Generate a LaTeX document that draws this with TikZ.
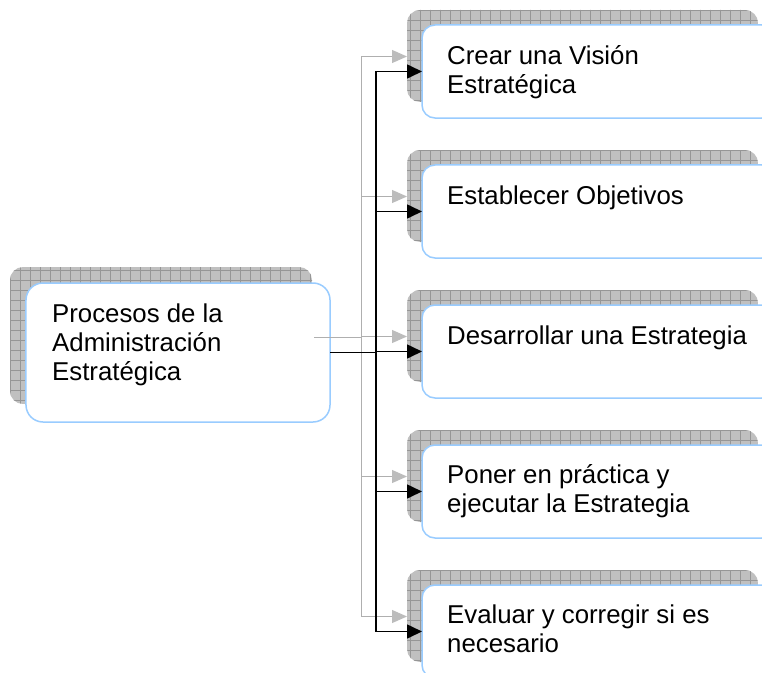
\documentclass[tikz,border=0pt]{standalone}
\usepackage{fontspec}
\setmainfont{Liberation Sans}
\usetikzlibrary{arrows.meta}
\definecolor{boxblue}{RGB}{153,204,255}
\definecolor{shadefill}{RGB}{192,192,192}
\definecolor{shadegrid}{RGB}{150,150,150}
\definecolor{ghostline}{RGB}{175,175,175}
\definecolor{ghosttip}{RGB}{188,188,188}
\tikzset{
 mainbox/.style={draw=boxblue, line width=1.5bp, fill=white, rounded corners=13bp, inner sep=0pt, outer sep=0pt},
 boxtext/.style={anchor=base west, inner sep=0pt, font=\fontsize{25.8bp}{29bp}\selectfont},
 link/.style={line width=1.6bp, black, -{Triangle[length=15bp,width=14bp]}},
 ghost/.style={line width=1bp, ghostline, -{Triangle[length=15bp,width=13bp,fill=ghosttip,color=ghosttip]}},
 gridline/.style={shadegrid, line width=0.5bp},
}
\newcommand\shadowpanel[2]{%
 \begin{scope}
 \clip[rounded corners=13bp] (#1) rectangle (#2);
 \fill[shadefill] (#1) rectangle (#2);
 \draw[gridline, step=10bp] (0,0) grid (780,690);
 \end{scope}}
\begin{document}
\begin{tikzpicture}[x=1bp,y=-1bp]
\useasboundingbox (0,0) rectangle (762,673);
\clip (0,0) rectangle (762,673);
% shadow panels
\shadowpanel{10,267}{312,404}
\foreach \i in {0,...,4}{
 \shadowpanel{407,10+140*\i}{758,102+140*\i}
}
% main boxes
\node[mainbox, rounded corners=17bp, minimum width=304bp, minimum height=139bp] (L) at (178,352.5) {};
\node[mainbox, minimum width=353bp, minimum height=93bp] (b1) at (598.5,71.5) {};
\node[mainbox, minimum width=353bp, minimum height=93bp] (b2) at (598.5,211.5) {};
\node[mainbox, minimum width=353bp, minimum height=93bp] (b3) at (598.5,351.5) {};
\node[mainbox, minimum width=353bp, minimum height=93bp] (b4) at (598.5,491.5) {};
\node[mainbox, minimum width=353bp, minimum height=93bp] (b5) at (598.5,631.5) {};
% ghost connectors
\foreach \b in {b1,b2,b3,b4,b5}{
 \draw[ghost] ([shift={(-16,-15.5)}]L.east) -- ++(47,0) |- ([shift={(-15,-15)}]\b.west);
}
% connectors
\foreach \b in {b1,b2,b3,b4,b5}{
 \draw[link] (L.east) -- ++(46,0) |- (\b.west);
}
% texts
\node[boxtext] (tL) at ([shift={(26,39.5)}]L.north west) {\parbox[t]{290bp}{Procesos de la\\Administración\\Estratégica}};
\node[boxtext] (t1) at ([shift={(25,39.5)}]b1.north west) {\parbox[t]{330bp}{Crear una Visión\\Estratégica}};
\node[boxtext] (t2) at ([shift={(25,39)}]b2.north west) {\parbox[t]{330bp}{Establecer Objetivos}};
\node[boxtext] (t3) at ([shift={(25,39)}]b3.north west) {\parbox[t]{330bp}{Desarrollar una Estrategia}};
\node[boxtext] (t4) at ([shift={(25,38.5)}]b4.north west) {\parbox[t]{330bp}{Poner en práctica y\\ejecutar la Estrategia}};
\node[boxtext] (t5) at ([shift={(25,38.5)}]b5.north west) {\parbox[t]{330bp}{Evaluar y corregir si es\\necesario}};
\end{tikzpicture}
\end{document}
